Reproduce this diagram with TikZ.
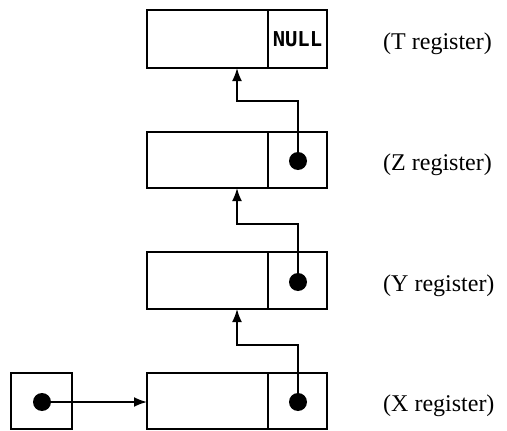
\documentclass[tikz,border=0pt]{standalone}
\usepackage{fontspec}
\setmainfont{Liberation Serif}
\newfontfamily\nulltextfont{DejaVu Sans Mono}
\usetikzlibrary{arrows.meta}
\tikzset{
  cell/.style={draw, line width=1.8pt, inner sep=0pt, outer sep=0pt},
  dot/.style={circle, fill=black, minimum size=18pt, inner sep=0pt},
  link/.style={line width=1.8pt, -{Latex[length=13pt,width=10pt]}},
  reglabel/.style={font=\fontsize{24}{28}\selectfont, anchor=west, inner sep=0pt}
}
\begin{document}
\begin{tikzpicture}[x=1pt,y=-1pt]
\useasboundingbox (0,0) rectangle (507,431);
% T register
\node[cell, minimum width=121pt, minimum height=58pt] (tl) at (207.5,39) {};
\node[cell, minimum width=59pt, minimum height=58pt] (tr) at (297.5,39) {\nulltextfont\bfseries\fontsize{20.5}{22}\selectfont NULL};
% Z register
\node[cell, minimum width=121pt, minimum height=56pt] (zl) at (207.5,160) {};
\node[cell, minimum width=59pt, minimum height=56pt] (zr) at (297.5,160) {};
% Y register
\node[cell, minimum width=121pt, minimum height=57pt] (yl) at (207.5,280.5) {};
\node[cell, minimum width=59pt, minimum height=57pt] (yr) at (297.5,280.5) {};
% X register
\node[cell, minimum width=121pt, minimum height=56pt] (xl) at (207.5,401) {};
\node[cell, minimum width=59pt, minimum height=56pt] (xr) at (297.5,401) {};
% separate pointer cell
\node[cell, minimum width=61pt, minimum height=56pt] (p) at (41.5,401) {};
% dots
\node[dot] (zd) at (298,161) {};
\node[dot] (yd) at (298,282) {};
\node[dot] (xd) at (298,402) {};
\node[dot] (pd) at (42,402) {};
% bend points
\coordinate (zb) at (298,101);
\coordinate (yb) at (298,224);
\coordinate (xb) at (298,345);
\coordinate (tt) at (237,68);
\coordinate (zt) at (237,188);
\coordinate (yt) at (237,309);
% links
\draw[link] (zd.center) -- (zb) -| (tt);
\draw[link] (yd.center) -- (yb) -| (zt);
\draw[link] (xd.center) -- (xb) -| (yt);
\draw[link] (pd.center) -- (pd.center -| xl.west);
% labels
\node[reglabel] (lt) at (383,44) {(T register)};
\node[reglabel] (lz) at (383,165) {(Z register)};
\node[reglabel] (ly) at (383,286) {(Y register)};
\node[reglabel] (lx) at (383,406) {(X register)};
\end{tikzpicture}
\end{document}
